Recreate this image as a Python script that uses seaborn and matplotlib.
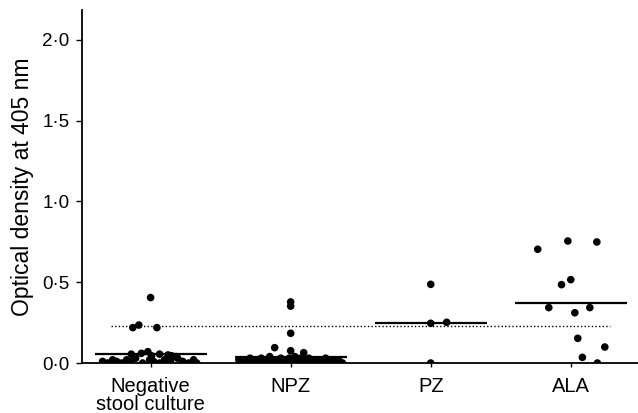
import numpy as np
import pandas as pd
import matplotlib
matplotlib.use("Agg")
import matplotlib.pyplot as plt
import seaborn as sns

# Groups and tick labels
groups = ["Negative\nstool culture", "NPZ", "PZ", "ALA"]
ytick_vals = [0.0, 0.5, 1.0, 1.5, 2.0]
ytick_labels = ["0·0", "0·5", "1·0", "1·5", "2·0"]
cutoff = 0.23

# Optical density readings, with horizontal scatter offsets
neg_od = [0.405, 0.219, 0.235, 0.219,
          0.055, 0.06, 0.07, 0.045, 0.055, 0.05, 0.045, 0.04,
          0.01, 0.00, 0.02, 0.01, 0.00, 0.02, 0.01, 0.03, 0.00, 0.02,
          0.01, 0.00, 0.02, 0.01, 0.03, 0.01, 0.00, 0.02, 0.00]
neg_dx = [0.0, -0.127, -0.084, 0.045,
          -0.138, -0.066, -0.02, 0.007, 0.064, 0.124, 0.15, 0.18,
          -0.343, -0.307, -0.271, -0.243, -0.207, -0.171, -0.143, -0.107, -0.057, -0.007,
          0.021, 0.064, 0.1, 0.143, 0.193, 0.229, 0.271, 0.307, 0.329]

npz_od = [0.378, 0.352, 0.184, 0.095, 0.076, 0.064,
          0.02, 0.01, 0.00, 0.02, 0.03, 0.01, 0.02, 0.00, 0.03, 0.01, 0.02, 0.04,
          0.01, 0.02, 0.00, 0.03, 0.02, 0.01, 0.03, 0.02, 0.04, 0.01, 0.03, 0.02,
          0.00, 0.03, 0.01, 0.02, 0.00, 0.02, 0.01, 0.03, 0.00, 0.01, 0.02, 0.00,
          0.01, 0.00, 0.00, 0.00, 0.01, 0.00, 0.00, 0.01]
npz_dx = [0.0, 0.0, 0.0, -0.114, 0.0, 0.093,
          -0.37, -0.35, -0.33, -0.31, -0.29, -0.27, -0.25, -0.23, -0.21, -0.19, -0.17, -0.15,
          -0.13, -0.11, -0.09, -0.07, -0.05, -0.03, -0.01, 0.01, 0.03, 0.05, 0.07, 0.09,
          0.11, 0.13, 0.15, 0.17, 0.19, 0.21, 0.23, 0.25, 0.27, 0.29, 0.31, 0.33,
          0.35, 0.37, -0.20, -0.12, -0.04, 0.06, 0.14, 0.24]

pz_od = [0.487, 0.246, 0.252, 0.0]
pz_dx = [0.0, 0.0, 0.114, 0.0]

ala_od = [0.704, 0.755, 0.749, 0.485, 0.516, 0.343, 0.311, 0.343, 0.153, 0.099, 0.035, 0.0]
ala_dx = [-0.236, -0.021, 0.186, -0.066, 0.0, -0.157, 0.029, 0.136, 0.05, 0.243, 0.083, 0.19]

od_lists = [neg_od, npz_od, pz_od, ala_od]
dx_lists = [neg_dx, npz_dx, pz_dx, ala_dx]

rows = []
for i, (ods, dxs) in enumerate(zip(od_lists, dx_lists)):
    for od, dx in zip(ods, dxs):
        rows.append({"group": i, "x": i + dx, "od": od})
df = pd.DataFrame(rows)
means = df.groupby("group")["od"].mean()

sns.set_style("ticks", {"axes.edgecolor": "black", "text.color": "black",
                        "axes.labelcolor": "black", "xtick.color": "black",
                        "ytick.color": "black"})
plt.rcParams["font.family"] = ["Liberation Sans", "DejaVu Sans"]

fig = plt.figure(figsize=(6.38, 4.13), dpi=100)
ax = fig.add_axes([0.1285, 0.121, 0.8715, 0.855])

sns.scatterplot(data=df, x="x", y="od", color="black", s=30, edgecolor="none",
                legend=False, ax=ax, zorder=3)

# group means
for i, m in means.items():
    ax.hlines(m, i - 0.4, i + 0.4, color="black", lw=1.6, zorder=2)

# cutoff
ax.hlines(cutoff, -0.28, 3.28, color="black", lw=1.0, linestyles=(0, (1, 1.6)), zorder=1)

ax.set_xlim(-0.49, 3.48)
ax.set_ylim(0, 2.185)
ax.set_xticks(range(len(groups)))
ax.set_xticklabels(groups, fontsize=14.5, linespacing=0.92)
ax.set_yticks(ytick_vals)
ax.set_yticklabels(ytick_labels, fontsize=13.5)
ax.set_xlabel("")
ax.set_ylabel("Optical density at 405 nm", fontsize=16.5, labelpad=6)
ax.tick_params(axis="x", length=3, width=1, pad=7, colors="black")
ax.tick_params(axis="y", length=4, width=1, pad=5, colors="black")
for sp in ["left", "bottom"]:
    ax.spines[sp].set_linewidth(1.3)
    ax.spines[sp].set_color("black")
sns.despine(ax=ax)

fig.savefig("out.png", dpi=100)
